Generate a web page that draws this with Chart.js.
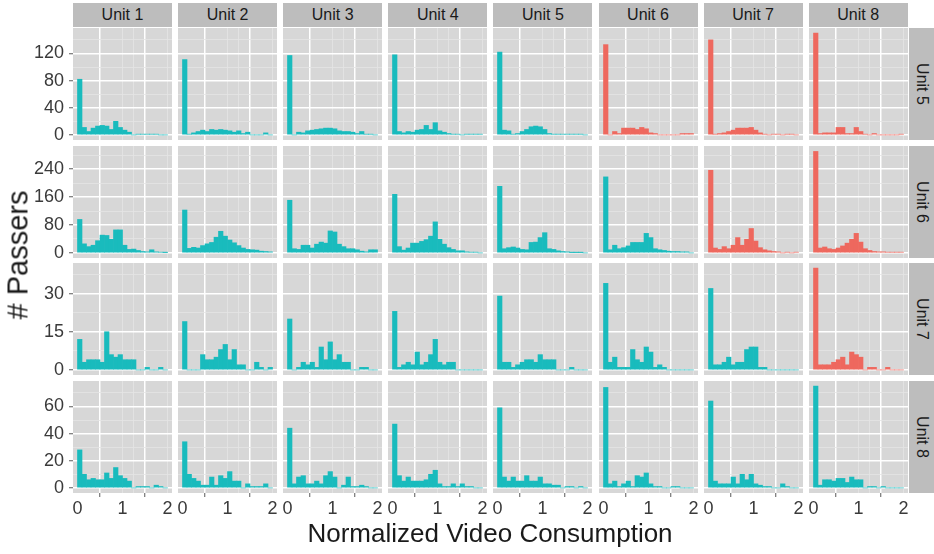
<!DOCTYPE html>
<html>
<head>
<meta charset="utf-8">
<script src="https://cdn.jsdelivr.net/npm/chart.js@4.4.1/dist/chart.umd.min.js"></script>
<style>
  html, body { margin: 0; padding: 0; background: #fff; }
  #wrap { position: relative; width: 934px; height: 554px; overflow: hidden;
          font-family: "Liberation Sans", Arial, sans-serif; }
  .strip { position: absolute; background: #BDBDBD; color: #1a1a1a; font-size: 16px;
           display: flex; align-items: center; justify-content: center; }
  .strip.side span { transform: rotate(90deg); white-space: nowrap; }
  .title { position: absolute; color: #1a1a1a; white-space: nowrap; font-size: 26px;
           transform: translate(-50%, -50%); }
  canvas { position: absolute; }
</style>
</head>
<body>
<div id="wrap"></div>
<script>
// facet labels
const colUnits = ['Unit 1', 'Unit 2', 'Unit 3', 'Unit 4', 'Unit 5', 'Unit 6', 'Unit 7', 'Unit 8'];
const rowUnits = ['Unit 5', 'Unit 6', 'Unit 7', 'Unit 8'];

// histogram bins (centre of each 0.1 wide bin)
const binCenters = [0.05, 0.15, 0.25, 0.35, 0.45, 0.55, 0.65, 0.75, 0.85, 0.95,
                    1.05, 1.15, 1.25, 1.35, 1.45, 1.55, 1.65, 1.75, 1.85, 1.95];

// counts per row facet, one array per column facet (Unit 1..8)
const countsUnit5 = [
  [82,11,5,10,13,14,13,8,20,11,7,4,0,1,1,1,1,1,0,0],
  [111,1,3,5,7,5,8,7,8,7,6,4,6,2,4,0,0,0,3,0],
  [117,0,4,3,6,7,8,9,10,10,9,6,5,5,4,2,5,1,1,0],
  [118,5,3,5,4,7,8,14,8,18,6,4,2,1,1,0,1,1,1,1],
  [122,7,6,1,2,5,8,12,13,12,8,2,1,1,1,1,1,1,1,0],
  [133,0,5,2,10,10,10,8,11,9,3,2,0,0,0,0,0,2,2,2],
  [140,1,2,3,5,7,10,10,10,11,7,3,1,0,1,1,0,1,1,0],
  [150,2,3,3,3,11,11,2,2,11,5,1,0,2,0,0,0,0,0,1]
];
const countsUnit6 = [
  [96,26,18,22,35,51,50,39,66,66,22,10,11,7,4,3,9,3,2,1],
  [123,13,16,14,21,26,30,45,62,48,37,29,21,14,10,9,8,5,4,3],
  [151,12,10,22,22,14,25,31,28,63,60,25,18,12,12,9,5,3,9,9],
  [168,18,8,14,28,28,33,38,48,89,39,25,15,10,6,6,3,2,2,0],
  [191,12,15,17,14,10,9,30,31,44,58,12,10,6,4,3,1,1,1,0],
  [218,9,22,12,15,20,30,30,30,56,44,12,9,7,5,4,4,3,3,0],
  [237,14,10,18,12,22,44,22,39,70,34,15,9,6,4,3,0,2,0,2],
  [291,14,17,12,10,14,20,28,39,56,31,12,7,4,3,3,2,2,2,2]
];
const countsUnit7 = [
  [12,3,4,4,4,3,15,6,5,6,4,4,4,0,0,1,0,0,1,0],
  [19,0,0,0,6,4,4,5,8,10,4,8,2,2,0,0,3,1,0,1],
  [20,0,1,3,2,3,1,9,4,11,4,6,3,3,0,0,1,1,0,0],
  [23,1,2,3,2,7,2,3,6,12,3,2,3,3,0,0,0,0,0,0],
  [29,3,3,1,2,3,4,4,3,6,4,4,4,0,0,0,1,0,0,0],
  [34,3,5,1,1,1,8,4,3,9,7,1,2,1,0,0,0,0,0,0],
  [32,2,2,3,5,2,3,3,8,9,9,1,1,0,0,0,0,0,0,0],
  [40,2,2,2,3,4,5,2,7,6,5,0,1,1,0,0,1,0,0,0]
];
const countsUnit8 = [
  [28,10,6,7,6,6,11,7,15,9,7,5,0,1,1,1,0,2,1,0],
  [34,10,7,5,2,2,8,2,9,7,12,5,5,0,3,1,1,1,3,0],
  [44,3,8,9,3,3,5,3,9,12,8,0,2,8,1,1,2,1,0,0],
  [47,9,5,8,5,5,5,6,10,13,3,1,1,3,1,3,1,1,0,0],
  [59,8,5,8,5,5,9,5,5,8,3,3,2,2,0,1,1,0,1,0],
  [74,3,5,1,3,5,1,9,8,11,3,1,1,0,0,1,1,0,0,0],
  [64,5,3,3,3,8,3,10,6,10,3,2,1,1,0,0,3,1,0,0],
  [75,2,6,6,5,7,7,4,8,6,6,0,1,1,0,1,0,0,0,0]
];
const rowCounts = [countsUnit5, countsUnit6, countsUnit7, countsUnit8];

// axis ticks
const xMajor = [0, 1, 2];
const xMinor = [0.5, 1.5];
const yMajor = [[0, 40, 80, 120], [0, 80, 160, 240], [0, 15, 30], [0, 20, 40, 60]];
const yMinor = [[20, 60, 100, 140], [40, 120, 200, 280], [7.5, 22.5, 37.5], [10, 30, 50, 70]];
const yLimits = [[-7.5, 157.5], [-14.6, 306.6], [-2, 42], [-3.75, 78.75]];

// layout / style
const FONT = '"Liberation Sans", Arial, sans-serif';
const PANEL_W = 99, PANEL_H = 112;
const COL_X0 = 73, COL_STEP = 105.1;
const ROW_Y0 = 28, ROW_STEP = 117.7;
const AXIS_W = 50, AXIS_H = 30;
const PANEL_BG = '#D7D7D7';
const MINOR_GRID = '#E4E4E4';
const TEAL = '#19BBBD';
const RED = '#EE685E';
const TICK_TXT = '#3a3a3a';

const wrap = document.getElementById('wrap');

const panelBg = {
  id: 'panelBg',
  beforeDraw(chart) {
    const { ctx, chartArea: a } = chart;
    ctx.save();
    ctx.fillStyle = PANEL_BG;
    ctx.fillRect(a.left, a.top, a.right - a.left, a.bottom - a.top);
    ctx.restore();
  }
};

function addDiv(cls, text, css) {
  const d = document.createElement('div');
  d.className = cls;
  d.innerHTML = '<span>' + text + '</span>';
  Object.assign(d.style, css);
  wrap.appendChild(d);
  return d;
}

const isMajor = (ctx, list) => !!ctx.tick && list.includes(ctx.tick.value);

function makePanel(r, c) {
  const firstCol = c === 0;
  const lastRow = r === rowUnits.length - 1;
  const left = COL_X0 + c * COL_STEP - (firstCol ? AXIS_W : 0);
  const top = ROW_Y0 + r * ROW_STEP;
  const w = Math.round(PANEL_W + (firstCol ? AXIS_W : 0));
  const h = Math.round(PANEL_H + (lastRow ? AXIS_H : 0));

  const cv = document.createElement('canvas');
  cv.width = w; cv.height = h;
  cv.style.left = left + 'px';
  cv.style.top = top + 'px';
  cv.style.width = w + 'px';
  cv.style.height = h + 'px';
  wrap.appendChild(cv);

  // red when the column unit comes after the row unit
  const colNum = parseInt(colUnits[c].split(' ')[1]);
  const rowNum = parseInt(rowUnits[r].split(' ')[1]);
  const color = colNum > rowNum ? RED : TEAL;

  const counts = rowCounts[r][c];
  const yMaj = yMajor[r];

  new Chart(cv, {
    type: 'bar',
    data: {
      datasets: [{
        data: binCenters.map((x, i) => ({ x: x, y: counts[i] })),
        backgroundColor: color,
        borderWidth: 0,
        barPercentage: 1,
        categoryPercentage: 1
      }]
    },
    options: {
      responsive: false,
      animation: false,
      events: [],
      layout: { padding: 0, autoPadding: false },
      plugins: { legend: { display: false }, tooltip: { enabled: false } },
      scales: {
        x: {
          type: 'linear',
          min: -0.1, max: 2.1,
          offset: false,
          afterBuildTicks: s => { s.ticks = xMajor.concat(xMinor).map(v => ({ value: v })); },
          afterFit: s => {
            s.height = lastRow ? AXIS_H : 0;
            s.paddingLeft = 0; s.paddingRight = 0;
          },
          ticks: {
            display: lastRow,
            autoSkip: false, maxRotation: 0, padding: 1,
            color: TICK_TXT,
            font: { size: 18, family: FONT },
            callback: v => xMajor.includes(v) ? String(v) : ''
          },
          grid: {
            color: ctx => isMajor(ctx, xMajor) ? '#FFFFFF' : MINOR_GRID,
            lineWidth: ctx => isMajor(ctx, xMajor) ? 1.5 : 0.8,
            drawTicks: lastRow,
            tickLength: 4,
            tickColor: ctx => isMajor(ctx, xMajor) ? '#5a5a5a' : 'rgba(0,0,0,0)',
            tickWidth: 1
          },
          border: { display: false }
        },
        y: {
          type: 'linear',
          min: yLimits[r][0], max: yLimits[r][1],
          afterBuildTicks: s => { s.ticks = yMaj.concat(yMinor[r]).map(v => ({ value: v })); },
          afterFit: s => {
            s.width = firstCol ? AXIS_W : 0;
            s.paddingTop = 0; s.paddingBottom = 0;
          },
          ticks: {
            display: firstCol,
            autoSkip: false,
            padding: 5,
            color: TICK_TXT,
            font: { size: 18, family: FONT },
            callback: v => yMaj.includes(v) ? String(v) : ''
          },
          grid: {
            color: ctx => isMajor(ctx, yMaj) ? '#FFFFFF' : MINOR_GRID,
            lineWidth: ctx => isMajor(ctx, yMaj) ? 1.5 : 0.8,
            drawTicks: firstCol,
            tickLength: 4,
            tickColor: ctx => isMajor(ctx, yMaj) ? '#5a5a5a' : 'rgba(0,0,0,0)',
            tickWidth: 1
          },
          border: { display: false }
        }
      }
    },
    plugins: [panelBg]
  });
}

// column strips on top
colUnits.forEach((u, c) => {
  addDiv('strip', u, {
    left: (COL_X0 + c * COL_STEP) + 'px', top: '3px',
    width: PANEL_W + 'px', height: '24px'
  });
});

// row strips on the right
rowUnits.forEach((u, r) => {
  addDiv('strip side', u, {
    left: '909px', top: (ROW_Y0 + r * ROW_STEP) + 'px',
    width: '25px', height: PANEL_H + 'px'
  });
});

for (let r = 0; r < rowUnits.length; r++) {
  for (let c = 0; c < colUnits.length; c++) makePanel(r, c);
}

// axis titles
const xt = document.createElement('div');
xt.className = 'title';
xt.textContent = 'Normalized Video Consumption';
Object.assign(xt.style, { left: '490px', top: '533px' });
wrap.appendChild(xt);

const yt = document.createElement('div');
yt.className = 'title';
yt.textContent = '# Passers';
Object.assign(yt.style, { left: '18px', top: '255px', fontSize: '29px',
  transform: 'translate(-50%, -50%) rotate(-90deg)' });
wrap.appendChild(yt);
</script>
</body>
</html>
